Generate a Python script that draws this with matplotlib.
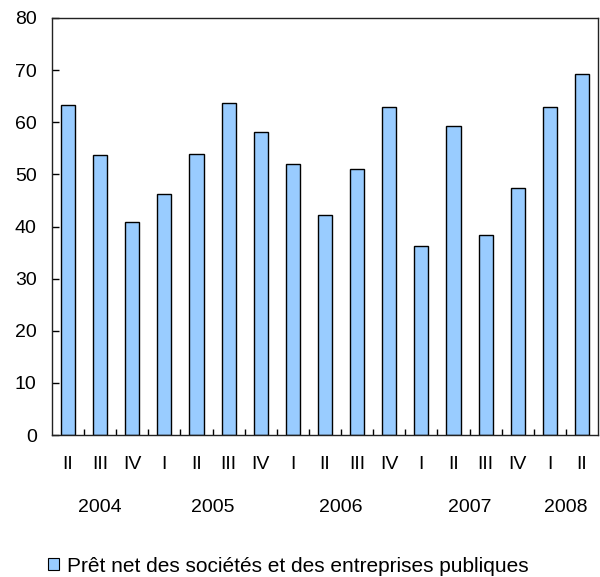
import matplotlib.pyplot as plt
import numpy as np
from matplotlib.patches import Patch

plt.rcParams['font.family'] = ['Liberation Sans', 'DejaVu Sans']

# Données
trimestres = ["II", "III", "IV", "I", "II", "III", "IV", "I", "II", "III", "IV",
              "I", "II", "III", "IV", "I", "II"]
annees = ["2004", "2005", "2006", "2007", "2008"]
nb_par_annee = [3, 4, 4, 4, 2]
valeurs = [63.3, 53.7, 40.8, 46.3, 54.0, 63.7, 58.1, 51.9, 42.3, 51.0, 62.9,
           36.3, 59.2, 38.3, 47.3, 62.9, 69.2]
legende = "Prêt net des sociétés et des entreprises publiques"

taille = 14

fig = plt.figure(figsize=(6.0, 5.77), dpi=100)
ax = fig.add_axes([52 / 600, 1 - 435 / 577, 546 / 600, 417 / 577])

x = np.arange(len(valeurs))
ax.bar(x, valeurs, width=0.44, color="#99ccff", edgecolor="black", linewidth=1.0)

ax.set_xlim(-0.5, len(valeurs) - 0.5)
ax.set_ylim(0, 80)
ax.set_yticks(range(0, 81, 10))
ax.tick_params(axis="y", direction="in", length=5, width=1, labelsize=taille, pad=11)

# ticks entre les catégories
ax.set_xticks(x[:-1] + 0.5)
ax.set_xticklabels([])
ax.tick_params(axis="x", direction="in", length=4, width=1)

for s in ax.spines.values():
    s.set_linewidth(1.0)
    s.set_color("#222222")

# étiquettes des trimestres
for xi, t in zip(x, trimestres):
    ax.text(xi, -6.55, t, ha="center", va="baseline", fontsize=taille)

# étiquettes des années
debut = 0
for an, n in zip(annees, nb_par_annee):
    centre = debut + (n - 1) / 2
    ax.text(centre, -14.7, an, ha="center", va="baseline", fontsize=taille)
    debut += n

fig.legend(handles=[Patch(facecolor="#99ccff", edgecolor="black", linewidth=0.8)],
           labels=[legende], loc="center left", bbox_to_anchor=(48 / 600, 1 - 566 / 577),
           frameon=False, fontsize=15, handlelength=0.55, handleheight=0.55,
           handletextpad=0.35, borderpad=0, borderaxespad=0)

fig.savefig("out.png", dpi=100)
plt.close(fig)
